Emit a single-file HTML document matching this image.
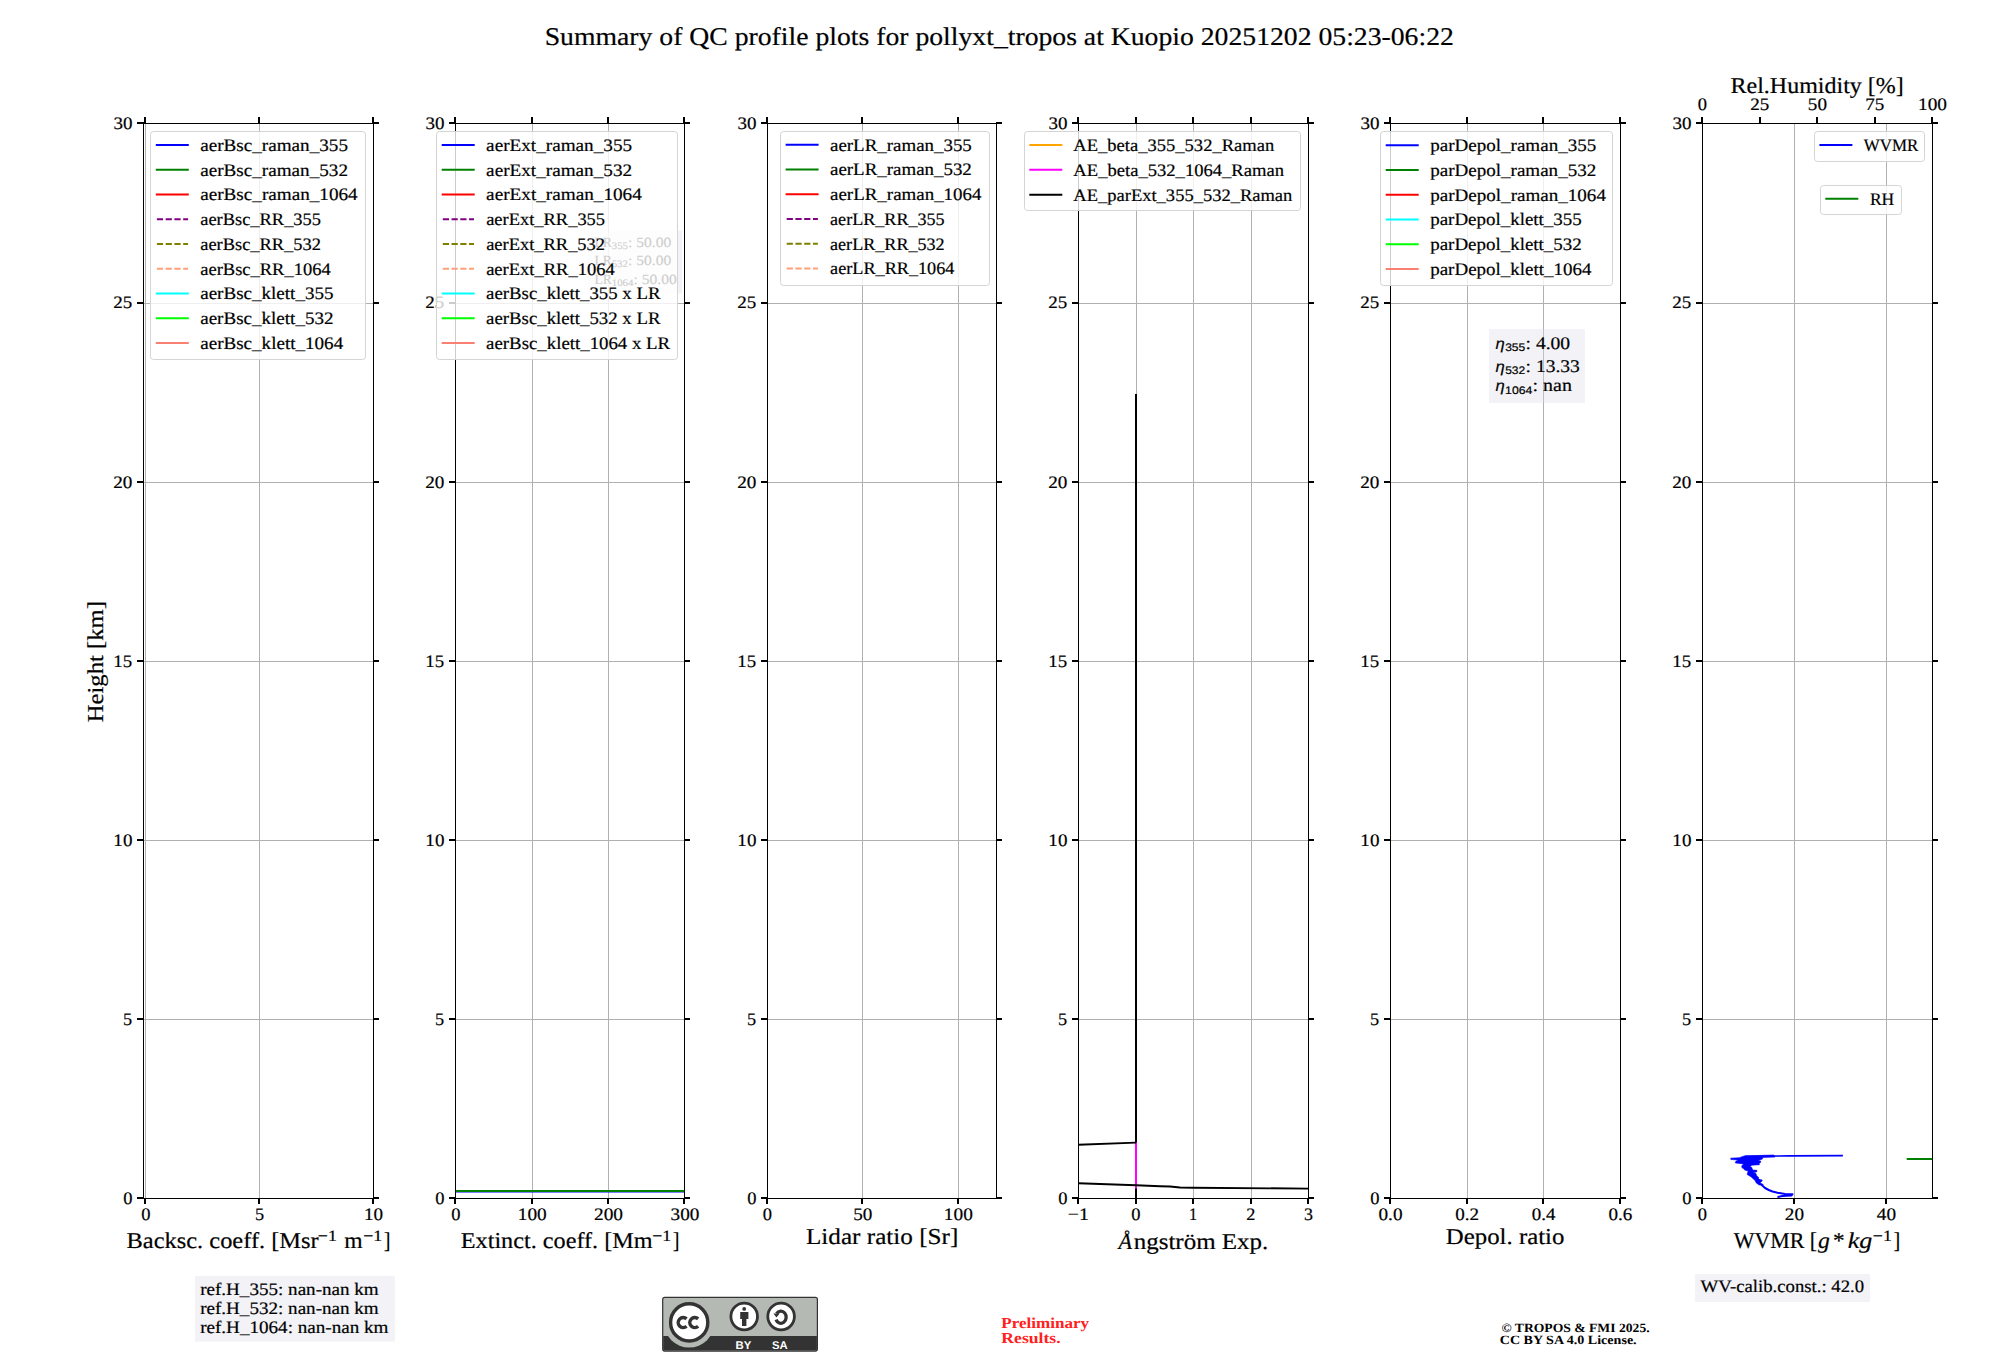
<!DOCTYPE html>
<html><head><meta charset="utf-8"><title>QC profile summary</title>
<style>html,body{margin:0;padding:0;background:#fff}body{width:2000px;height:1360px;overflow:hidden}svg{display:block}svg{font-family:"Liberation Serif",serif;text-rendering:geometricPrecision}</style></head>
<body><svg width="2000" height="1360" viewBox="0 0 2000 1360">
<rect x="0" y="0" width="2000" height="1360" fill="#fff"/>
<text x="544.72" y="44.50" font-size="25.55" textLength="909.11" lengthAdjust="spacingAndGlyphs" stroke="#000" stroke-width="0.2" >Summary of QC profile plots for pollyxt_tropos at Kuopio 20251202 05:23-06:22</text>
<g transform="translate(102.9,661.8) rotate(-90)">
<text x="-60.46" y="0.00" font-size="22.71" textLength="121.29" lengthAdjust="spacingAndGlyphs" stroke="#000" stroke-width="0.2" >Height [km]</text>
</g>
<line x1="145.50" y1="123.50" x2="145.50" y2="1198.50" stroke="#b0b0b0" stroke-width="1.0" />
<line x1="259.50" y1="123.50" x2="259.50" y2="1198.50" stroke="#b0b0b0" stroke-width="1.0" />
<line x1="373.50" y1="123.50" x2="373.50" y2="1198.50" stroke="#b0b0b0" stroke-width="1.0" />
<line x1="143.50" y1="1198.50" x2="373.50" y2="1198.50" stroke="#b0b0b0" stroke-width="1.0" />
<line x1="143.50" y1="1019.50" x2="373.50" y2="1019.50" stroke="#b0b0b0" stroke-width="1.0" />
<line x1="143.50" y1="840.50" x2="373.50" y2="840.50" stroke="#b0b0b0" stroke-width="1.0" />
<line x1="143.50" y1="661.50" x2="373.50" y2="661.50" stroke="#b0b0b0" stroke-width="1.0" />
<line x1="143.50" y1="482.50" x2="373.50" y2="482.50" stroke="#b0b0b0" stroke-width="1.0" />
<line x1="143.50" y1="303.50" x2="373.50" y2="303.50" stroke="#b0b0b0" stroke-width="1.0" />
<line x1="143.50" y1="123.50" x2="373.50" y2="123.50" stroke="#b0b0b0" stroke-width="1.0" />
<line x1="455.50" y1="123.50" x2="455.50" y2="1198.50" stroke="#b0b0b0" stroke-width="1.0" />
<line x1="532.50" y1="123.50" x2="532.50" y2="1198.50" stroke="#b0b0b0" stroke-width="1.0" />
<line x1="608.50" y1="123.50" x2="608.50" y2="1198.50" stroke="#b0b0b0" stroke-width="1.0" />
<line x1="684.50" y1="123.50" x2="684.50" y2="1198.50" stroke="#b0b0b0" stroke-width="1.0" />
<line x1="455.50" y1="1198.50" x2="684.50" y2="1198.50" stroke="#b0b0b0" stroke-width="1.0" />
<line x1="455.50" y1="1019.50" x2="684.50" y2="1019.50" stroke="#b0b0b0" stroke-width="1.0" />
<line x1="455.50" y1="840.50" x2="684.50" y2="840.50" stroke="#b0b0b0" stroke-width="1.0" />
<line x1="455.50" y1="661.50" x2="684.50" y2="661.50" stroke="#b0b0b0" stroke-width="1.0" />
<line x1="455.50" y1="482.50" x2="684.50" y2="482.50" stroke="#b0b0b0" stroke-width="1.0" />
<line x1="455.50" y1="303.50" x2="684.50" y2="303.50" stroke="#b0b0b0" stroke-width="1.0" />
<line x1="455.50" y1="123.50" x2="684.50" y2="123.50" stroke="#b0b0b0" stroke-width="1.0" />
<line x1="767.50" y1="123.50" x2="767.50" y2="1198.50" stroke="#b0b0b0" stroke-width="1.0" />
<line x1="862.50" y1="123.50" x2="862.50" y2="1198.50" stroke="#b0b0b0" stroke-width="1.0" />
<line x1="958.50" y1="123.50" x2="958.50" y2="1198.50" stroke="#b0b0b0" stroke-width="1.0" />
<line x1="767.50" y1="1198.50" x2="996.50" y2="1198.50" stroke="#b0b0b0" stroke-width="1.0" />
<line x1="767.50" y1="1019.50" x2="996.50" y2="1019.50" stroke="#b0b0b0" stroke-width="1.0" />
<line x1="767.50" y1="840.50" x2="996.50" y2="840.50" stroke="#b0b0b0" stroke-width="1.0" />
<line x1="767.50" y1="661.50" x2="996.50" y2="661.50" stroke="#b0b0b0" stroke-width="1.0" />
<line x1="767.50" y1="482.50" x2="996.50" y2="482.50" stroke="#b0b0b0" stroke-width="1.0" />
<line x1="767.50" y1="303.50" x2="996.50" y2="303.50" stroke="#b0b0b0" stroke-width="1.0" />
<line x1="767.50" y1="123.50" x2="996.50" y2="123.50" stroke="#b0b0b0" stroke-width="1.0" />
<line x1="1078.50" y1="123.50" x2="1078.50" y2="1198.50" stroke="#b0b0b0" stroke-width="1.0" />
<line x1="1136.50" y1="123.50" x2="1136.50" y2="1198.50" stroke="#b0b0b0" stroke-width="1.0" />
<line x1="1193.50" y1="123.50" x2="1193.50" y2="1198.50" stroke="#b0b0b0" stroke-width="1.0" />
<line x1="1251.50" y1="123.50" x2="1251.50" y2="1198.50" stroke="#b0b0b0" stroke-width="1.0" />
<line x1="1308.50" y1="123.50" x2="1308.50" y2="1198.50" stroke="#b0b0b0" stroke-width="1.0" />
<line x1="1078.50" y1="1198.50" x2="1308.50" y2="1198.50" stroke="#b0b0b0" stroke-width="1.0" />
<line x1="1078.50" y1="1019.50" x2="1308.50" y2="1019.50" stroke="#b0b0b0" stroke-width="1.0" />
<line x1="1078.50" y1="840.50" x2="1308.50" y2="840.50" stroke="#b0b0b0" stroke-width="1.0" />
<line x1="1078.50" y1="661.50" x2="1308.50" y2="661.50" stroke="#b0b0b0" stroke-width="1.0" />
<line x1="1078.50" y1="482.50" x2="1308.50" y2="482.50" stroke="#b0b0b0" stroke-width="1.0" />
<line x1="1078.50" y1="303.50" x2="1308.50" y2="303.50" stroke="#b0b0b0" stroke-width="1.0" />
<line x1="1078.50" y1="123.50" x2="1308.50" y2="123.50" stroke="#b0b0b0" stroke-width="1.0" />
<line x1="1390.50" y1="123.50" x2="1390.50" y2="1198.50" stroke="#b0b0b0" stroke-width="1.0" />
<line x1="1467.50" y1="123.50" x2="1467.50" y2="1198.50" stroke="#b0b0b0" stroke-width="1.0" />
<line x1="1543.50" y1="123.50" x2="1543.50" y2="1198.50" stroke="#b0b0b0" stroke-width="1.0" />
<line x1="1620.50" y1="123.50" x2="1620.50" y2="1198.50" stroke="#b0b0b0" stroke-width="1.0" />
<line x1="1390.50" y1="1198.50" x2="1620.50" y2="1198.50" stroke="#b0b0b0" stroke-width="1.0" />
<line x1="1390.50" y1="1019.50" x2="1620.50" y2="1019.50" stroke="#b0b0b0" stroke-width="1.0" />
<line x1="1390.50" y1="840.50" x2="1620.50" y2="840.50" stroke="#b0b0b0" stroke-width="1.0" />
<line x1="1390.50" y1="661.50" x2="1620.50" y2="661.50" stroke="#b0b0b0" stroke-width="1.0" />
<line x1="1390.50" y1="482.50" x2="1620.50" y2="482.50" stroke="#b0b0b0" stroke-width="1.0" />
<line x1="1390.50" y1="303.50" x2="1620.50" y2="303.50" stroke="#b0b0b0" stroke-width="1.0" />
<line x1="1390.50" y1="123.50" x2="1620.50" y2="123.50" stroke="#b0b0b0" stroke-width="1.0" />
<line x1="1702.50" y1="123.50" x2="1702.50" y2="1198.50" stroke="#b0b0b0" stroke-width="1.0" />
<line x1="1794.50" y1="123.50" x2="1794.50" y2="1198.50" stroke="#b0b0b0" stroke-width="1.0" />
<line x1="1886.50" y1="123.50" x2="1886.50" y2="1198.50" stroke="#b0b0b0" stroke-width="1.0" />
<line x1="1702.50" y1="1198.50" x2="1932.50" y2="1198.50" stroke="#b0b0b0" stroke-width="1.0" />
<line x1="1702.50" y1="1019.50" x2="1932.50" y2="1019.50" stroke="#b0b0b0" stroke-width="1.0" />
<line x1="1702.50" y1="840.50" x2="1932.50" y2="840.50" stroke="#b0b0b0" stroke-width="1.0" />
<line x1="1702.50" y1="661.50" x2="1932.50" y2="661.50" stroke="#b0b0b0" stroke-width="1.0" />
<line x1="1702.50" y1="482.50" x2="1932.50" y2="482.50" stroke="#b0b0b0" stroke-width="1.0" />
<line x1="1702.50" y1="303.50" x2="1932.50" y2="303.50" stroke="#b0b0b0" stroke-width="1.0" />
<line x1="1702.50" y1="123.50" x2="1932.50" y2="123.50" stroke="#b0b0b0" stroke-width="1.0" />
<line x1="455.50" y1="1191.50" x2="684.50" y2="1191.50" stroke="#0000ff" stroke-width="2.0" />
<line x1="455.50" y1="1191.00" x2="684.50" y2="1191.00" stroke="#008000" stroke-width="2.0" />
<line x1="1136.00" y1="394.00" x2="1136.00" y2="1143.00" stroke="#000" stroke-width="2.0" />
<line x1="1136.00" y1="1142.40" x2="1136.00" y2="1189.00" stroke="#ff00ff" stroke-width="2.0" />
<line x1="1136.00" y1="1188.50" x2="1136.00" y2="1198.50" stroke="#000" stroke-width="2.0" />
<polyline points="1078.50,1144.70 1136.00,1142.60" fill="none" stroke="#000" stroke-width="1.9" stroke-linejoin="round" />
<polyline points="1078.50,1183.30 1136.00,1185.25 1160.00,1186.25 1170.00,1186.50 1180.00,1187.50 1193.00,1187.75 1308.50,1188.60" fill="none" stroke="#000" stroke-width="1.9" stroke-linejoin="round" />
<polygon points="1744.0,1155.9 1773.9,1155.0 1774.9,1157.1 1762.3,1157.5 1762.8,1158.5 1761.5,1159.5 1758.2,1160.3 1760.8,1161.3 1760.5,1162.6 1759.0,1163.4 1759.5,1164.7 1751.8,1165.2 1750.0,1166.5 1751.8,1167.5 1752.3,1169.3 1753.3,1170.1 1756.9,1170.3 1756.7,1171.9 1753.0,1172.4 1755.9,1173.4 1756.7,1175.7 1758.7,1177.5 1758.5,1179.1 1761.5,1180.4 1760.0,1182.9 1763.3,1184.5 1759.0,1185.0 1756.1,1182.7 1755.1,1180.6 1751.0,1176.8 1747.1,1174.4 1748.2,1171.1 1744.6,1170.1 1744.0,1168.8 1742.0,1167.8 1741.7,1166.0 1743.5,1163.9 1735.3,1162.9 1735.8,1161.3 1738.4,1160.0 1730.9,1159.5 1730.7,1158.2 1739.4,1157.7 1743.5,1156.2" fill="#0000ff" stroke="#0000ff" stroke-width="0.6" stroke-linejoin="round"/>
<polyline points="1745.00,1156.30 1790.00,1155.90 1842.90,1155.70" fill="none" stroke="#0000ff" stroke-width="1.7" stroke-linejoin="round" stroke-linecap="butt"/>
<polyline points="1752.50,1176.00 1757.00,1178.75 1760.00,1180.75 1761.50,1180.50 1757.50,1182.50 1761.75,1185.00 1765.00,1188.00 1768.75,1190.00 1772.50,1191.50 1777.50,1192.75 1785.00,1194.00 1792.50,1194.25 1791.25,1195.50 1782.50,1196.00 1778.75,1196.75 1777.50,1197.50" fill="none" stroke="#0000ff" stroke-width="2.0" stroke-linejoin="round" />
<line x1="1906.70" y1="1159.00" x2="1932.50" y2="1159.00" stroke="#008000" stroke-width="2.0" />
<rect x="1489" y="329.1" width="95.9" height="73.9" fill="#dcdce8" fill-opacity="0.35"/>
<rect x="587.4" y="230.5" width="94.6" height="63.1" fill="#dcdce8" fill-opacity="0.35"/>
<line x1="143.00" y1="123.50" x2="374.00" y2="123.50" stroke="#000" stroke-width="1.0" />
<line x1="143.00" y1="1198.50" x2="374.00" y2="1198.50" stroke="#000" stroke-width="1.0" />
<line x1="143.50" y1="123.00" x2="143.50" y2="1199.00" stroke="#000" stroke-width="1.0" />
<line x1="373.50" y1="123.00" x2="373.50" y2="1199.00" stroke="#000" stroke-width="1.0" />
<line x1="145.00" y1="1198.00" x2="145.00" y2="1204.00" stroke="#000" stroke-width="2.0" />
<text x="141.15" y="1219.90" font-size="17.57" textLength="9.24" lengthAdjust="spacingAndGlyphs" stroke="#000" stroke-width="0.2" >0</text>
<line x1="259.00" y1="1198.00" x2="259.00" y2="1204.00" stroke="#000" stroke-width="2.0" />
<text x="254.96" y="1219.90" font-size="17.57" textLength="9.13" lengthAdjust="spacingAndGlyphs" stroke="#000" stroke-width="0.2" >5</text>
<line x1="373.00" y1="1198.00" x2="373.00" y2="1204.00" stroke="#000" stroke-width="2.0" />
<text x="363.94" y="1219.90" font-size="17.57" textLength="19.06" lengthAdjust="spacingAndGlyphs" stroke="#000" stroke-width="0.2" >10</text>
<line x1="145.00" y1="117.00" x2="145.00" y2="124.00" stroke="#000" stroke-width="2.0" />
<line x1="259.00" y1="117.00" x2="259.00" y2="124.00" stroke="#000" stroke-width="2.0" />
<line x1="373.00" y1="117.00" x2="373.00" y2="124.00" stroke="#000" stroke-width="2.0" />
<line x1="137.00" y1="1198.00" x2="144.00" y2="1198.00" stroke="#000" stroke-width="2.0" />
<line x1="373.00" y1="1198.00" x2="379.00" y2="1198.00" stroke="#000" stroke-width="2.0" />
<text x="123.19" y="1204.30" font-size="17.57" textLength="9.24" lengthAdjust="spacingAndGlyphs" stroke="#000" stroke-width="0.2" >0</text>
<line x1="137.00" y1="1019.00" x2="144.00" y2="1019.00" stroke="#000" stroke-width="2.0" />
<line x1="373.00" y1="1019.00" x2="379.00" y2="1019.00" stroke="#000" stroke-width="2.0" />
<text x="123.14" y="1025.13" font-size="17.57" textLength="9.13" lengthAdjust="spacingAndGlyphs" stroke="#000" stroke-width="0.2" >5</text>
<line x1="137.00" y1="840.00" x2="144.00" y2="840.00" stroke="#000" stroke-width="2.0" />
<line x1="373.00" y1="840.00" x2="379.00" y2="840.00" stroke="#000" stroke-width="2.0" />
<text x="113.37" y="845.97" font-size="17.57" textLength="19.06" lengthAdjust="spacingAndGlyphs" stroke="#000" stroke-width="0.2" >10</text>
<line x1="137.00" y1="661.00" x2="144.00" y2="661.00" stroke="#000" stroke-width="2.0" />
<line x1="373.00" y1="661.00" x2="379.00" y2="661.00" stroke="#000" stroke-width="2.0" />
<text x="113.39" y="666.80" font-size="17.57" textLength="18.89" lengthAdjust="spacingAndGlyphs" stroke="#000" stroke-width="0.2" >15</text>
<line x1="137.00" y1="482.00" x2="144.00" y2="482.00" stroke="#000" stroke-width="2.0" />
<line x1="373.00" y1="482.00" x2="379.00" y2="482.00" stroke="#000" stroke-width="2.0" />
<text x="113.28" y="487.63" font-size="17.57" textLength="19.15" lengthAdjust="spacingAndGlyphs" stroke="#000" stroke-width="0.2" >20</text>
<line x1="137.00" y1="303.00" x2="144.00" y2="303.00" stroke="#000" stroke-width="2.0" />
<line x1="373.00" y1="303.00" x2="379.00" y2="303.00" stroke="#000" stroke-width="2.0" />
<text x="113.29" y="308.47" font-size="17.57" textLength="18.98" lengthAdjust="spacingAndGlyphs" stroke="#000" stroke-width="0.2" >25</text>
<line x1="137.00" y1="123.00" x2="144.00" y2="123.00" stroke="#000" stroke-width="2.0" />
<line x1="373.00" y1="123.00" x2="379.00" y2="123.00" stroke="#000" stroke-width="2.0" />
<text x="113.44" y="129.30" font-size="17.57" textLength="18.98" lengthAdjust="spacingAndGlyphs" stroke="#000" stroke-width="0.2" >30</text>
<line x1="455.00" y1="123.50" x2="685.00" y2="123.50" stroke="#000" stroke-width="1.0" />
<line x1="455.00" y1="1198.50" x2="685.00" y2="1198.50" stroke="#000" stroke-width="1.0" />
<line x1="455.50" y1="123.00" x2="455.50" y2="1199.00" stroke="#000" stroke-width="1.0" />
<line x1="684.50" y1="123.00" x2="684.50" y2="1199.00" stroke="#000" stroke-width="1.0" />
<line x1="455.00" y1="1198.00" x2="455.00" y2="1204.00" stroke="#000" stroke-width="2.0" />
<text x="451.27" y="1219.90" font-size="17.57" textLength="9.24" lengthAdjust="spacingAndGlyphs" stroke="#000" stroke-width="0.2" >0</text>
<line x1="532.00" y1="1198.00" x2="532.00" y2="1204.00" stroke="#000" stroke-width="2.0" />
<text x="517.77" y="1219.90" font-size="17.57" textLength="28.93" lengthAdjust="spacingAndGlyphs" stroke="#000" stroke-width="0.2" >100</text>
<line x1="608.00" y1="1198.00" x2="608.00" y2="1204.00" stroke="#000" stroke-width="2.0" />
<text x="594.03" y="1219.90" font-size="17.57" textLength="29.01" lengthAdjust="spacingAndGlyphs" stroke="#000" stroke-width="0.2" >200</text>
<line x1="684.00" y1="1198.00" x2="684.00" y2="1204.00" stroke="#000" stroke-width="2.0" />
<text x="670.52" y="1219.90" font-size="17.57" textLength="28.84" lengthAdjust="spacingAndGlyphs" stroke="#000" stroke-width="0.2" >300</text>
<line x1="455.00" y1="117.00" x2="455.00" y2="124.00" stroke="#000" stroke-width="2.0" />
<line x1="532.00" y1="117.00" x2="532.00" y2="124.00" stroke="#000" stroke-width="2.0" />
<line x1="608.00" y1="117.00" x2="608.00" y2="124.00" stroke="#000" stroke-width="2.0" />
<line x1="684.00" y1="117.00" x2="684.00" y2="124.00" stroke="#000" stroke-width="2.0" />
<line x1="449.00" y1="1198.00" x2="456.00" y2="1198.00" stroke="#000" stroke-width="2.0" />
<line x1="684.00" y1="1198.00" x2="690.00" y2="1198.00" stroke="#000" stroke-width="2.0" />
<text x="435.19" y="1204.30" font-size="17.57" textLength="9.24" lengthAdjust="spacingAndGlyphs" stroke="#000" stroke-width="0.2" >0</text>
<line x1="449.00" y1="1019.00" x2="456.00" y2="1019.00" stroke="#000" stroke-width="2.0" />
<line x1="684.00" y1="1019.00" x2="690.00" y2="1019.00" stroke="#000" stroke-width="2.0" />
<text x="435.14" y="1025.13" font-size="17.57" textLength="9.13" lengthAdjust="spacingAndGlyphs" stroke="#000" stroke-width="0.2" >5</text>
<line x1="449.00" y1="840.00" x2="456.00" y2="840.00" stroke="#000" stroke-width="2.0" />
<line x1="684.00" y1="840.00" x2="690.00" y2="840.00" stroke="#000" stroke-width="2.0" />
<text x="425.37" y="845.97" font-size="17.57" textLength="19.06" lengthAdjust="spacingAndGlyphs" stroke="#000" stroke-width="0.2" >10</text>
<line x1="449.00" y1="661.00" x2="456.00" y2="661.00" stroke="#000" stroke-width="2.0" />
<line x1="684.00" y1="661.00" x2="690.00" y2="661.00" stroke="#000" stroke-width="2.0" />
<text x="425.39" y="666.80" font-size="17.57" textLength="18.89" lengthAdjust="spacingAndGlyphs" stroke="#000" stroke-width="0.2" >15</text>
<line x1="449.00" y1="482.00" x2="456.00" y2="482.00" stroke="#000" stroke-width="2.0" />
<line x1="684.00" y1="482.00" x2="690.00" y2="482.00" stroke="#000" stroke-width="2.0" />
<text x="425.28" y="487.63" font-size="17.57" textLength="19.15" lengthAdjust="spacingAndGlyphs" stroke="#000" stroke-width="0.2" >20</text>
<line x1="449.00" y1="303.00" x2="456.00" y2="303.00" stroke="#000" stroke-width="2.0" />
<line x1="684.00" y1="303.00" x2="690.00" y2="303.00" stroke="#000" stroke-width="2.0" />
<text x="425.29" y="308.47" font-size="17.57" textLength="18.98" lengthAdjust="spacingAndGlyphs" stroke="#000" stroke-width="0.2" >25</text>
<line x1="449.00" y1="123.00" x2="456.00" y2="123.00" stroke="#000" stroke-width="2.0" />
<line x1="684.00" y1="123.00" x2="690.00" y2="123.00" stroke="#000" stroke-width="2.0" />
<text x="425.44" y="129.30" font-size="17.57" textLength="18.98" lengthAdjust="spacingAndGlyphs" stroke="#000" stroke-width="0.2" >30</text>
<line x1="767.00" y1="123.50" x2="997.00" y2="123.50" stroke="#000" stroke-width="1.0" />
<line x1="767.00" y1="1198.50" x2="997.00" y2="1198.50" stroke="#000" stroke-width="1.0" />
<line x1="767.50" y1="123.00" x2="767.50" y2="1199.00" stroke="#000" stroke-width="1.0" />
<line x1="996.50" y1="123.00" x2="996.50" y2="1199.00" stroke="#000" stroke-width="1.0" />
<line x1="767.00" y1="1198.00" x2="767.00" y2="1204.00" stroke="#000" stroke-width="2.0" />
<text x="762.87" y="1219.90" font-size="17.57" textLength="9.24" lengthAdjust="spacingAndGlyphs" stroke="#000" stroke-width="0.2" >0</text>
<line x1="862.00" y1="1198.00" x2="862.00" y2="1204.00" stroke="#000" stroke-width="2.0" />
<text x="853.29" y="1219.90" font-size="17.57" textLength="19.13" lengthAdjust="spacingAndGlyphs" stroke="#000" stroke-width="0.2" >50</text>
<line x1="958.00" y1="1198.00" x2="958.00" y2="1204.00" stroke="#000" stroke-width="2.0" />
<text x="943.87" y="1219.90" font-size="17.57" textLength="28.93" lengthAdjust="spacingAndGlyphs" stroke="#000" stroke-width="0.2" >100</text>
<line x1="767.00" y1="117.00" x2="767.00" y2="124.00" stroke="#000" stroke-width="2.0" />
<line x1="862.00" y1="117.00" x2="862.00" y2="124.00" stroke="#000" stroke-width="2.0" />
<line x1="958.00" y1="117.00" x2="958.00" y2="124.00" stroke="#000" stroke-width="2.0" />
<line x1="761.00" y1="1198.00" x2="768.00" y2="1198.00" stroke="#000" stroke-width="2.0" />
<line x1="996.00" y1="1198.00" x2="1002.00" y2="1198.00" stroke="#000" stroke-width="2.0" />
<text x="747.19" y="1204.30" font-size="17.57" textLength="9.24" lengthAdjust="spacingAndGlyphs" stroke="#000" stroke-width="0.2" >0</text>
<line x1="761.00" y1="1019.00" x2="768.00" y2="1019.00" stroke="#000" stroke-width="2.0" />
<line x1="996.00" y1="1019.00" x2="1002.00" y2="1019.00" stroke="#000" stroke-width="2.0" />
<text x="747.14" y="1025.13" font-size="17.57" textLength="9.13" lengthAdjust="spacingAndGlyphs" stroke="#000" stroke-width="0.2" >5</text>
<line x1="761.00" y1="840.00" x2="768.00" y2="840.00" stroke="#000" stroke-width="2.0" />
<line x1="996.00" y1="840.00" x2="1002.00" y2="840.00" stroke="#000" stroke-width="2.0" />
<text x="737.37" y="845.97" font-size="17.57" textLength="19.06" lengthAdjust="spacingAndGlyphs" stroke="#000" stroke-width="0.2" >10</text>
<line x1="761.00" y1="661.00" x2="768.00" y2="661.00" stroke="#000" stroke-width="2.0" />
<line x1="996.00" y1="661.00" x2="1002.00" y2="661.00" stroke="#000" stroke-width="2.0" />
<text x="737.39" y="666.80" font-size="17.57" textLength="18.89" lengthAdjust="spacingAndGlyphs" stroke="#000" stroke-width="0.2" >15</text>
<line x1="761.00" y1="482.00" x2="768.00" y2="482.00" stroke="#000" stroke-width="2.0" />
<line x1="996.00" y1="482.00" x2="1002.00" y2="482.00" stroke="#000" stroke-width="2.0" />
<text x="737.28" y="487.63" font-size="17.57" textLength="19.15" lengthAdjust="spacingAndGlyphs" stroke="#000" stroke-width="0.2" >20</text>
<line x1="761.00" y1="303.00" x2="768.00" y2="303.00" stroke="#000" stroke-width="2.0" />
<line x1="996.00" y1="303.00" x2="1002.00" y2="303.00" stroke="#000" stroke-width="2.0" />
<text x="737.29" y="308.47" font-size="17.57" textLength="18.98" lengthAdjust="spacingAndGlyphs" stroke="#000" stroke-width="0.2" >25</text>
<line x1="761.00" y1="123.00" x2="768.00" y2="123.00" stroke="#000" stroke-width="2.0" />
<line x1="996.00" y1="123.00" x2="1002.00" y2="123.00" stroke="#000" stroke-width="2.0" />
<text x="737.44" y="129.30" font-size="17.57" textLength="18.98" lengthAdjust="spacingAndGlyphs" stroke="#000" stroke-width="0.2" >30</text>
<line x1="1078.00" y1="123.50" x2="1309.00" y2="123.50" stroke="#000" stroke-width="1.0" />
<line x1="1078.00" y1="1198.50" x2="1309.00" y2="1198.50" stroke="#000" stroke-width="1.0" />
<line x1="1078.50" y1="123.00" x2="1078.50" y2="1199.00" stroke="#000" stroke-width="1.0" />
<line x1="1308.50" y1="123.00" x2="1308.50" y2="1199.00" stroke="#000" stroke-width="1.0" />
<line x1="1078.00" y1="1198.00" x2="1078.00" y2="1204.00" stroke="#000" stroke-width="2.0" />
<text x="1067.80" y="1219.90" font-size="17.57" textLength="21.06" lengthAdjust="spacingAndGlyphs" stroke="#000" stroke-width="0.2" >−1</text>
<line x1="1136.00" y1="1198.00" x2="1136.00" y2="1204.00" stroke="#000" stroke-width="2.0" />
<text x="1131.37" y="1219.90" font-size="17.57" textLength="9.24" lengthAdjust="spacingAndGlyphs" stroke="#000" stroke-width="0.2" >0</text>
<line x1="1193.00" y1="1198.00" x2="1193.00" y2="1204.00" stroke="#000" stroke-width="2.0" />
<text x="1189.08" y="1219.90" font-size="17.57" textLength="8.12" lengthAdjust="spacingAndGlyphs" stroke="#000" stroke-width="0.2" >1</text>
<line x1="1251.00" y1="1198.00" x2="1251.00" y2="1204.00" stroke="#000" stroke-width="2.0" />
<text x="1246.29" y="1219.90" font-size="17.57" textLength="9.13" lengthAdjust="spacingAndGlyphs" stroke="#000" stroke-width="0.2" >2</text>
<line x1="1308.00" y1="1198.00" x2="1308.00" y2="1204.00" stroke="#000" stroke-width="2.0" />
<text x="1303.95" y="1219.90" font-size="17.57" textLength="8.98" lengthAdjust="spacingAndGlyphs" stroke="#000" stroke-width="0.2" >3</text>
<line x1="1078.00" y1="117.00" x2="1078.00" y2="124.00" stroke="#000" stroke-width="2.0" />
<line x1="1136.00" y1="117.00" x2="1136.00" y2="124.00" stroke="#000" stroke-width="2.0" />
<line x1="1193.00" y1="117.00" x2="1193.00" y2="124.00" stroke="#000" stroke-width="2.0" />
<line x1="1251.00" y1="117.00" x2="1251.00" y2="124.00" stroke="#000" stroke-width="2.0" />
<line x1="1308.00" y1="117.00" x2="1308.00" y2="124.00" stroke="#000" stroke-width="2.0" />
<line x1="1072.00" y1="1198.00" x2="1079.00" y2="1198.00" stroke="#000" stroke-width="2.0" />
<line x1="1308.00" y1="1198.00" x2="1314.00" y2="1198.00" stroke="#000" stroke-width="2.0" />
<text x="1058.19" y="1204.30" font-size="17.57" textLength="9.24" lengthAdjust="spacingAndGlyphs" stroke="#000" stroke-width="0.2" >0</text>
<line x1="1072.00" y1="1019.00" x2="1079.00" y2="1019.00" stroke="#000" stroke-width="2.0" />
<line x1="1308.00" y1="1019.00" x2="1314.00" y2="1019.00" stroke="#000" stroke-width="2.0" />
<text x="1058.14" y="1025.13" font-size="17.57" textLength="9.13" lengthAdjust="spacingAndGlyphs" stroke="#000" stroke-width="0.2" >5</text>
<line x1="1072.00" y1="840.00" x2="1079.00" y2="840.00" stroke="#000" stroke-width="2.0" />
<line x1="1308.00" y1="840.00" x2="1314.00" y2="840.00" stroke="#000" stroke-width="2.0" />
<text x="1048.37" y="845.97" font-size="17.57" textLength="19.06" lengthAdjust="spacingAndGlyphs" stroke="#000" stroke-width="0.2" >10</text>
<line x1="1072.00" y1="661.00" x2="1079.00" y2="661.00" stroke="#000" stroke-width="2.0" />
<line x1="1308.00" y1="661.00" x2="1314.00" y2="661.00" stroke="#000" stroke-width="2.0" />
<text x="1048.39" y="666.80" font-size="17.57" textLength="18.89" lengthAdjust="spacingAndGlyphs" stroke="#000" stroke-width="0.2" >15</text>
<line x1="1072.00" y1="482.00" x2="1079.00" y2="482.00" stroke="#000" stroke-width="2.0" />
<line x1="1308.00" y1="482.00" x2="1314.00" y2="482.00" stroke="#000" stroke-width="2.0" />
<text x="1048.28" y="487.63" font-size="17.57" textLength="19.15" lengthAdjust="spacingAndGlyphs" stroke="#000" stroke-width="0.2" >20</text>
<line x1="1072.00" y1="303.00" x2="1079.00" y2="303.00" stroke="#000" stroke-width="2.0" />
<line x1="1308.00" y1="303.00" x2="1314.00" y2="303.00" stroke="#000" stroke-width="2.0" />
<text x="1048.29" y="308.47" font-size="17.57" textLength="18.98" lengthAdjust="spacingAndGlyphs" stroke="#000" stroke-width="0.2" >25</text>
<line x1="1072.00" y1="123.00" x2="1079.00" y2="123.00" stroke="#000" stroke-width="2.0" />
<line x1="1308.00" y1="123.00" x2="1314.00" y2="123.00" stroke="#000" stroke-width="2.0" />
<text x="1048.44" y="129.30" font-size="17.57" textLength="18.98" lengthAdjust="spacingAndGlyphs" stroke="#000" stroke-width="0.2" >30</text>
<line x1="1390.00" y1="123.50" x2="1621.00" y2="123.50" stroke="#000" stroke-width="1.0" />
<line x1="1390.00" y1="1198.50" x2="1621.00" y2="1198.50" stroke="#000" stroke-width="1.0" />
<line x1="1390.50" y1="123.00" x2="1390.50" y2="1199.00" stroke="#000" stroke-width="1.0" />
<line x1="1620.50" y1="123.00" x2="1620.50" y2="1199.00" stroke="#000" stroke-width="1.0" />
<line x1="1390.00" y1="1198.00" x2="1390.00" y2="1204.00" stroke="#000" stroke-width="2.0" />
<text x="1378.51" y="1219.90" font-size="17.57" textLength="23.98" lengthAdjust="spacingAndGlyphs" stroke="#000" stroke-width="0.2" >0.0</text>
<line x1="1467.00" y1="1198.00" x2="1467.00" y2="1204.00" stroke="#000" stroke-width="2.0" />
<text x="1455.18" y="1219.90" font-size="17.57" textLength="23.79" lengthAdjust="spacingAndGlyphs" stroke="#000" stroke-width="0.2" >0.2</text>
<line x1="1543.00" y1="1198.00" x2="1543.00" y2="1204.00" stroke="#000" stroke-width="2.0" />
<text x="1531.85" y="1219.90" font-size="17.57" textLength="23.72" lengthAdjust="spacingAndGlyphs" stroke="#000" stroke-width="0.2" >0.4</text>
<line x1="1620.00" y1="1198.00" x2="1620.00" y2="1204.00" stroke="#000" stroke-width="2.0" />
<text x="1608.51" y="1219.90" font-size="17.57" textLength="23.86" lengthAdjust="spacingAndGlyphs" stroke="#000" stroke-width="0.2" >0.6</text>
<line x1="1390.00" y1="117.00" x2="1390.00" y2="124.00" stroke="#000" stroke-width="2.0" />
<line x1="1467.00" y1="117.00" x2="1467.00" y2="124.00" stroke="#000" stroke-width="2.0" />
<line x1="1543.00" y1="117.00" x2="1543.00" y2="124.00" stroke="#000" stroke-width="2.0" />
<line x1="1620.00" y1="117.00" x2="1620.00" y2="124.00" stroke="#000" stroke-width="2.0" />
<line x1="1384.00" y1="1198.00" x2="1391.00" y2="1198.00" stroke="#000" stroke-width="2.0" />
<line x1="1620.00" y1="1198.00" x2="1626.00" y2="1198.00" stroke="#000" stroke-width="2.0" />
<text x="1370.19" y="1204.30" font-size="17.57" textLength="9.24" lengthAdjust="spacingAndGlyphs" stroke="#000" stroke-width="0.2" >0</text>
<line x1="1384.00" y1="1019.00" x2="1391.00" y2="1019.00" stroke="#000" stroke-width="2.0" />
<line x1="1620.00" y1="1019.00" x2="1626.00" y2="1019.00" stroke="#000" stroke-width="2.0" />
<text x="1370.14" y="1025.13" font-size="17.57" textLength="9.13" lengthAdjust="spacingAndGlyphs" stroke="#000" stroke-width="0.2" >5</text>
<line x1="1384.00" y1="840.00" x2="1391.00" y2="840.00" stroke="#000" stroke-width="2.0" />
<line x1="1620.00" y1="840.00" x2="1626.00" y2="840.00" stroke="#000" stroke-width="2.0" />
<text x="1360.37" y="845.97" font-size="17.57" textLength="19.06" lengthAdjust="spacingAndGlyphs" stroke="#000" stroke-width="0.2" >10</text>
<line x1="1384.00" y1="661.00" x2="1391.00" y2="661.00" stroke="#000" stroke-width="2.0" />
<line x1="1620.00" y1="661.00" x2="1626.00" y2="661.00" stroke="#000" stroke-width="2.0" />
<text x="1360.39" y="666.80" font-size="17.57" textLength="18.89" lengthAdjust="spacingAndGlyphs" stroke="#000" stroke-width="0.2" >15</text>
<line x1="1384.00" y1="482.00" x2="1391.00" y2="482.00" stroke="#000" stroke-width="2.0" />
<line x1="1620.00" y1="482.00" x2="1626.00" y2="482.00" stroke="#000" stroke-width="2.0" />
<text x="1360.28" y="487.63" font-size="17.57" textLength="19.15" lengthAdjust="spacingAndGlyphs" stroke="#000" stroke-width="0.2" >20</text>
<line x1="1384.00" y1="303.00" x2="1391.00" y2="303.00" stroke="#000" stroke-width="2.0" />
<line x1="1620.00" y1="303.00" x2="1626.00" y2="303.00" stroke="#000" stroke-width="2.0" />
<text x="1360.29" y="308.47" font-size="17.57" textLength="18.98" lengthAdjust="spacingAndGlyphs" stroke="#000" stroke-width="0.2" >25</text>
<line x1="1384.00" y1="123.00" x2="1391.00" y2="123.00" stroke="#000" stroke-width="2.0" />
<line x1="1620.00" y1="123.00" x2="1626.00" y2="123.00" stroke="#000" stroke-width="2.0" />
<text x="1360.44" y="129.30" font-size="17.57" textLength="18.98" lengthAdjust="spacingAndGlyphs" stroke="#000" stroke-width="0.2" >30</text>
<line x1="1702.00" y1="123.50" x2="1933.00" y2="123.50" stroke="#000" stroke-width="1.0" />
<line x1="1702.00" y1="1198.50" x2="1933.00" y2="1198.50" stroke="#000" stroke-width="1.0" />
<line x1="1702.50" y1="123.00" x2="1702.50" y2="1199.00" stroke="#000" stroke-width="1.0" />
<line x1="1932.50" y1="123.00" x2="1932.50" y2="1199.00" stroke="#000" stroke-width="1.0" />
<line x1="1702.00" y1="1198.00" x2="1702.00" y2="1204.00" stroke="#000" stroke-width="2.0" />
<text x="1697.87" y="1219.90" font-size="17.57" textLength="9.24" lengthAdjust="spacingAndGlyphs" stroke="#000" stroke-width="0.2" >0</text>
<line x1="1794.00" y1="1198.00" x2="1794.00" y2="1204.00" stroke="#000" stroke-width="2.0" />
<text x="1784.86" y="1219.90" font-size="17.57" textLength="19.15" lengthAdjust="spacingAndGlyphs" stroke="#000" stroke-width="0.2" >20</text>
<line x1="1886.00" y1="1198.00" x2="1886.00" y2="1204.00" stroke="#000" stroke-width="2.0" />
<text x="1876.80" y="1219.90" font-size="17.57" textLength="19.21" lengthAdjust="spacingAndGlyphs" stroke="#000" stroke-width="0.2" >40</text>
<line x1="1702.00" y1="117.00" x2="1702.00" y2="124.00" stroke="#000" stroke-width="2.0" />
<line x1="1760.00" y1="117.00" x2="1760.00" y2="124.00" stroke="#000" stroke-width="2.0" />
<line x1="1817.00" y1="117.00" x2="1817.00" y2="124.00" stroke="#000" stroke-width="2.0" />
<line x1="1875.00" y1="117.00" x2="1875.00" y2="124.00" stroke="#000" stroke-width="2.0" />
<line x1="1932.00" y1="117.00" x2="1932.00" y2="124.00" stroke="#000" stroke-width="2.0" />
<line x1="1696.00" y1="1198.00" x2="1703.00" y2="1198.00" stroke="#000" stroke-width="2.0" />
<line x1="1932.00" y1="1198.00" x2="1938.00" y2="1198.00" stroke="#000" stroke-width="2.0" />
<text x="1682.19" y="1204.30" font-size="17.57" textLength="9.24" lengthAdjust="spacingAndGlyphs" stroke="#000" stroke-width="0.2" >0</text>
<line x1="1696.00" y1="1019.00" x2="1703.00" y2="1019.00" stroke="#000" stroke-width="2.0" />
<line x1="1932.00" y1="1019.00" x2="1938.00" y2="1019.00" stroke="#000" stroke-width="2.0" />
<text x="1682.14" y="1025.13" font-size="17.57" textLength="9.13" lengthAdjust="spacingAndGlyphs" stroke="#000" stroke-width="0.2" >5</text>
<line x1="1696.00" y1="840.00" x2="1703.00" y2="840.00" stroke="#000" stroke-width="2.0" />
<line x1="1932.00" y1="840.00" x2="1938.00" y2="840.00" stroke="#000" stroke-width="2.0" />
<text x="1672.37" y="845.97" font-size="17.57" textLength="19.06" lengthAdjust="spacingAndGlyphs" stroke="#000" stroke-width="0.2" >10</text>
<line x1="1696.00" y1="661.00" x2="1703.00" y2="661.00" stroke="#000" stroke-width="2.0" />
<line x1="1932.00" y1="661.00" x2="1938.00" y2="661.00" stroke="#000" stroke-width="2.0" />
<text x="1672.39" y="666.80" font-size="17.57" textLength="18.89" lengthAdjust="spacingAndGlyphs" stroke="#000" stroke-width="0.2" >15</text>
<line x1="1696.00" y1="482.00" x2="1703.00" y2="482.00" stroke="#000" stroke-width="2.0" />
<line x1="1932.00" y1="482.00" x2="1938.00" y2="482.00" stroke="#000" stroke-width="2.0" />
<text x="1672.28" y="487.63" font-size="17.57" textLength="19.15" lengthAdjust="spacingAndGlyphs" stroke="#000" stroke-width="0.2" >20</text>
<line x1="1696.00" y1="303.00" x2="1703.00" y2="303.00" stroke="#000" stroke-width="2.0" />
<line x1="1932.00" y1="303.00" x2="1938.00" y2="303.00" stroke="#000" stroke-width="2.0" />
<text x="1672.29" y="308.47" font-size="17.57" textLength="18.98" lengthAdjust="spacingAndGlyphs" stroke="#000" stroke-width="0.2" >25</text>
<line x1="1696.00" y1="123.00" x2="1703.00" y2="123.00" stroke="#000" stroke-width="2.0" />
<line x1="1932.00" y1="123.00" x2="1938.00" y2="123.00" stroke="#000" stroke-width="2.0" />
<text x="1672.44" y="129.30" font-size="17.57" textLength="18.98" lengthAdjust="spacingAndGlyphs" stroke="#000" stroke-width="0.2" >30</text>
<text x="126.57" y="1247.60" font-size="22.71" textLength="192.15" lengthAdjust="spacingAndGlyphs" stroke="#000" stroke-width="0.2" >Backsc. coeff. [Msr</text>
<text x="317.87" y="1241.00" font-size="15.90" textLength="19.06" lengthAdjust="spacingAndGlyphs" stroke="#000" stroke-width="0.2" >−1</text>
<text x="344.19" y="1247.60" font-size="22.71" textLength="18.36" lengthAdjust="spacingAndGlyphs" stroke="#000" stroke-width="0.2" >m</text>
<text x="363.25" y="1241.00" font-size="15.90" textLength="19.06" lengthAdjust="spacingAndGlyphs" stroke="#000" stroke-width="0.2" >−1</text>
<text x="383.85" y="1247.60" font-size="22.71" textLength="6.76" lengthAdjust="spacingAndGlyphs" stroke="#000" stroke-width="0.2" >]</text>
<text x="460.79" y="1247.60" font-size="22.71" textLength="191.80" lengthAdjust="spacingAndGlyphs" stroke="#000" stroke-width="0.2" >Extinct. coeff. [Mm</text>
<text x="652.24" y="1241.00" font-size="15.90" textLength="19.06" lengthAdjust="spacingAndGlyphs" stroke="#000" stroke-width="0.2" >−1</text>
<text x="672.84" y="1247.60" font-size="22.71" textLength="6.76" lengthAdjust="spacingAndGlyphs" stroke="#000" stroke-width="0.2" >]</text>
<text x="805.99" y="1243.50" font-size="22.71" textLength="152.31" lengthAdjust="spacingAndGlyphs" stroke="#000" stroke-width="0.2" >Lidar ratio [Sr]</text>
<text x="1445.85" y="1243.50" font-size="22.71" textLength="118.60" lengthAdjust="spacingAndGlyphs" stroke="#000" stroke-width="0.2" >Depol. ratio</text>
<text x="1118.58" y="1249.20" font-size="22.71" textLength="13.50" lengthAdjust="spacingAndGlyphs" stroke="#000" stroke-width="0.2" font-style="italic" >Å</text>
<text x="1133.70" y="1249.20" font-size="22.71" textLength="134.61" lengthAdjust="spacingAndGlyphs" stroke="#000" stroke-width="0.2" >ngström Exp.</text>
<text x="1733.73" y="1247.50" font-size="22.71" textLength="83.43" lengthAdjust="spacingAndGlyphs" stroke="#000" stroke-width="0.2" >WVMR [</text>
<text x="1817.96" y="1247.50" font-size="22.71" textLength="11.84" lengthAdjust="spacingAndGlyphs" stroke="#000" stroke-width="0.2" font-style="italic" >g</text>
<text x="1832.98" y="1247.50" font-size="22.71" textLength="11.67" lengthAdjust="spacingAndGlyphs" stroke="#000" stroke-width="0.2" >*</text>
<text x="1847.68" y="1247.50" font-size="22.71" textLength="24.58" lengthAdjust="spacingAndGlyphs" stroke="#000" stroke-width="0.2" font-style="italic" >kg</text>
<text x="1872.84" y="1240.90" font-size="15.90" textLength="19.06" lengthAdjust="spacingAndGlyphs" stroke="#000" stroke-width="0.2" >−1</text>
<text x="1893.44" y="1247.50" font-size="22.71" textLength="6.76" lengthAdjust="spacingAndGlyphs" stroke="#000" stroke-width="0.2" >]</text>
<text x="1495.60" y="348.70" font-size="15.81" textLength="9.27" lengthAdjust="spacingAndGlyphs" stroke="#000" stroke-width="0.2" font-style="italic" font-family="'Liberation Sans',sans-serif" >η</text>
<text x="1505.16" y="351.10" font-size="10.96" textLength="20.11" lengthAdjust="spacingAndGlyphs" stroke="#000" stroke-width="0.2" font-family="'Liberation Sans',sans-serif" >355</text>
<text x="1525.60" y="348.70" font-size="17.82" textLength="44.56" lengthAdjust="spacingAndGlyphs" stroke="#000" stroke-width="0.2" >: 4.00</text>
<text x="1495.60" y="371.80" font-size="15.81" textLength="9.27" lengthAdjust="spacingAndGlyphs" stroke="#000" stroke-width="0.2" font-style="italic" font-family="'Liberation Sans',sans-serif" >η</text>
<text x="1505.16" y="374.20" font-size="10.96" textLength="20.06" lengthAdjust="spacingAndGlyphs" stroke="#000" stroke-width="0.2" font-family="'Liberation Sans',sans-serif" >532</text>
<text x="1525.60" y="371.80" font-size="17.82" textLength="54.31" lengthAdjust="spacingAndGlyphs" stroke="#000" stroke-width="0.2" >: 13.33</text>
<text x="1495.60" y="391.40" font-size="15.81" textLength="9.27" lengthAdjust="spacingAndGlyphs" stroke="#000" stroke-width="0.2" font-style="italic" font-family="'Liberation Sans',sans-serif" >η</text>
<text x="1505.10" y="393.80" font-size="10.96" textLength="27.26" lengthAdjust="spacingAndGlyphs" stroke="#000" stroke-width="0.2" font-family="'Liberation Sans',sans-serif" >1064</text>
<text x="1532.46" y="391.40" font-size="17.82" textLength="39.43" lengthAdjust="spacingAndGlyphs" stroke="#000" stroke-width="0.2" >: nan</text>
<text x="594.46" y="246.80" font-size="14.14" textLength="17.59" lengthAdjust="spacingAndGlyphs" stroke="#000" stroke-width="0.2" >LR</text>
<text x="611.79" y="249.40" font-size="9.90" textLength="16.16" lengthAdjust="spacingAndGlyphs" stroke="#000" stroke-width="0.2" >355</text>
<text x="628.11" y="246.80" font-size="14.14" textLength="43.22" lengthAdjust="spacingAndGlyphs" stroke="#000" stroke-width="0.2" >: 50.00</text>
<text x="594.46" y="264.70" font-size="14.14" textLength="17.59" lengthAdjust="spacingAndGlyphs" stroke="#000" stroke-width="0.2" >LR</text>
<text x="611.71" y="267.30" font-size="9.90" textLength="16.23" lengthAdjust="spacingAndGlyphs" stroke="#000" stroke-width="0.2" >532</text>
<text x="628.11" y="264.70" font-size="14.14" textLength="43.22" lengthAdjust="spacingAndGlyphs" stroke="#000" stroke-width="0.2" >: 50.00</text>
<text x="594.46" y="283.70" font-size="14.14" textLength="17.59" lengthAdjust="spacingAndGlyphs" stroke="#000" stroke-width="0.2" >LR</text>
<text x="611.74" y="286.30" font-size="9.90" textLength="21.65" lengthAdjust="spacingAndGlyphs" stroke="#000" stroke-width="0.2" >1064</text>
<text x="633.59" y="283.70" font-size="14.14" textLength="43.22" lengthAdjust="spacingAndGlyphs" stroke="#000" stroke-width="0.2" >: 50.00</text>
<rect x="150.50" y="131.50" width="215.00" height="228.00" rx="3" ry="3" fill="#fff" fill-opacity="0.8" stroke="#d4d4d4" stroke-width="1"/>
<line x1="155.80" y1="144.90" x2="188.80" y2="144.90" stroke="#0000ff" stroke-width="2.0" />
<text x="200.23" y="150.90" font-size="17.57" textLength="147.76" lengthAdjust="spacingAndGlyphs" stroke="#000" stroke-width="0.2" >aerBsc_raman_355</text>
<line x1="155.80" y1="169.65" x2="188.80" y2="169.65" stroke="#008000" stroke-width="2.0" />
<text x="200.23" y="175.65" font-size="17.57" textLength="147.74" lengthAdjust="spacingAndGlyphs" stroke="#000" stroke-width="0.2" >aerBsc_raman_532</text>
<line x1="155.80" y1="194.40" x2="188.80" y2="194.40" stroke="#ff0000" stroke-width="2.0" />
<text x="200.23" y="200.40" font-size="17.57" textLength="157.43" lengthAdjust="spacingAndGlyphs" stroke="#000" stroke-width="0.2" >aerBsc_raman_1064</text>
<line x1="156.90" y1="219.15" x2="188.10" y2="219.15" stroke="#800080" stroke-width="2.0"  stroke-dasharray="6.2,2.55"/>
<text x="200.26" y="225.15" font-size="17.57" textLength="120.74" lengthAdjust="spacingAndGlyphs" stroke="#000" stroke-width="0.2" >aerBsc_RR_355</text>
<line x1="156.90" y1="243.90" x2="188.10" y2="243.90" stroke="#808000" stroke-width="2.0"  stroke-dasharray="6.2,2.55"/>
<text x="200.26" y="249.90" font-size="17.57" textLength="120.71" lengthAdjust="spacingAndGlyphs" stroke="#000" stroke-width="0.2" >aerBsc_RR_532</text>
<line x1="156.90" y1="268.65" x2="188.10" y2="268.65" stroke="#ffa07a" stroke-width="2.0"  stroke-dasharray="6.2,2.55"/>
<text x="200.25" y="274.65" font-size="17.57" textLength="130.43" lengthAdjust="spacingAndGlyphs" stroke="#000" stroke-width="0.2" >aerBsc_RR_1064</text>
<line x1="155.80" y1="293.40" x2="188.80" y2="293.40" stroke="#00ffff" stroke-width="2.0" />
<text x="200.23" y="299.40" font-size="17.57" textLength="133.28" lengthAdjust="spacingAndGlyphs" stroke="#000" stroke-width="0.2" >aerBsc_klett_355</text>
<line x1="155.80" y1="318.15" x2="188.80" y2="318.15" stroke="#00ff00" stroke-width="2.0" />
<text x="200.23" y="324.15" font-size="17.57" textLength="133.26" lengthAdjust="spacingAndGlyphs" stroke="#000" stroke-width="0.2" >aerBsc_klett_532</text>
<line x1="155.80" y1="342.90" x2="188.80" y2="342.90" stroke="#fa8072" stroke-width="2.0" />
<text x="200.23" y="348.90" font-size="17.57" textLength="142.95" lengthAdjust="spacingAndGlyphs" stroke="#000" stroke-width="0.2" >aerBsc_klett_1064</text>
<rect x="436.50" y="131.50" width="241.00" height="228.00" rx="3" ry="3" fill="#fff" fill-opacity="0.8" stroke="#d4d4d4" stroke-width="1"/>
<line x1="441.70" y1="144.90" x2="474.70" y2="144.90" stroke="#0000ff" stroke-width="2.0" />
<text x="486.13" y="150.90" font-size="17.57" textLength="145.97" lengthAdjust="spacingAndGlyphs" stroke="#000" stroke-width="0.2" >aerExt_raman_355</text>
<line x1="441.70" y1="169.65" x2="474.70" y2="169.65" stroke="#008000" stroke-width="2.0" />
<text x="486.13" y="175.65" font-size="17.57" textLength="145.95" lengthAdjust="spacingAndGlyphs" stroke="#000" stroke-width="0.2" >aerExt_raman_532</text>
<line x1="441.70" y1="194.40" x2="474.70" y2="194.40" stroke="#ff0000" stroke-width="2.0" />
<text x="486.13" y="200.40" font-size="17.57" textLength="155.71" lengthAdjust="spacingAndGlyphs" stroke="#000" stroke-width="0.2" >aerExt_raman_1064</text>
<line x1="442.80" y1="219.15" x2="474.00" y2="219.15" stroke="#800080" stroke-width="2.0"  stroke-dasharray="6.2,2.55"/>
<text x="486.15" y="225.15" font-size="17.57" textLength="118.95" lengthAdjust="spacingAndGlyphs" stroke="#000" stroke-width="0.2" >aerExt_RR_355</text>
<line x1="442.80" y1="243.90" x2="474.00" y2="243.90" stroke="#808000" stroke-width="2.0"  stroke-dasharray="6.2,2.55"/>
<text x="486.15" y="249.90" font-size="17.57" textLength="118.92" lengthAdjust="spacingAndGlyphs" stroke="#000" stroke-width="0.2" >aerExt_RR_532</text>
<line x1="442.80" y1="268.65" x2="474.00" y2="268.65" stroke="#ffa07a" stroke-width="2.0"  stroke-dasharray="6.2,2.55"/>
<text x="486.15" y="274.65" font-size="17.57" textLength="128.63" lengthAdjust="spacingAndGlyphs" stroke="#000" stroke-width="0.2" >aerExt_RR_1064</text>
<line x1="441.70" y1="293.40" x2="474.70" y2="293.40" stroke="#00ffff" stroke-width="2.0" />
<text x="486.14" y="299.40" font-size="17.57" textLength="174.30" lengthAdjust="spacingAndGlyphs" stroke="#000" stroke-width="0.2" >aerBsc_klett_355 x LR</text>
<line x1="441.70" y1="318.15" x2="474.70" y2="318.15" stroke="#00ff00" stroke-width="2.0" />
<text x="486.14" y="324.15" font-size="17.57" textLength="174.30" lengthAdjust="spacingAndGlyphs" stroke="#000" stroke-width="0.2" >aerBsc_klett_532 x LR</text>
<line x1="441.70" y1="342.90" x2="474.70" y2="342.90" stroke="#fa8072" stroke-width="2.0" />
<text x="486.14" y="348.90" font-size="17.57" textLength="184.06" lengthAdjust="spacingAndGlyphs" stroke="#000" stroke-width="0.2" >aerBsc_klett_1064 x LR</text>
<rect x="780.50" y="131.50" width="209.00" height="154.00" rx="3" ry="3" fill="#fff" fill-opacity="0.8" stroke="#d4d4d4" stroke-width="1"/>
<line x1="785.60" y1="144.70" x2="818.60" y2="144.70" stroke="#0000ff" stroke-width="2.0" />
<text x="830.04" y="150.70" font-size="17.57" textLength="141.80" lengthAdjust="spacingAndGlyphs" stroke="#000" stroke-width="0.2" >aerLR_raman_355</text>
<line x1="785.60" y1="169.45" x2="818.60" y2="169.45" stroke="#008000" stroke-width="2.0" />
<text x="830.04" y="175.45" font-size="17.57" textLength="141.78" lengthAdjust="spacingAndGlyphs" stroke="#000" stroke-width="0.2" >aerLR_raman_532</text>
<line x1="785.60" y1="194.20" x2="818.60" y2="194.20" stroke="#ff0000" stroke-width="2.0" />
<text x="830.04" y="200.20" font-size="17.57" textLength="151.48" lengthAdjust="spacingAndGlyphs" stroke="#000" stroke-width="0.2" >aerLR_raman_1064</text>
<line x1="786.70" y1="218.95" x2="817.90" y2="218.95" stroke="#800080" stroke-width="2.0"  stroke-dasharray="6.2,2.55"/>
<text x="830.07" y="224.95" font-size="17.57" textLength="114.60" lengthAdjust="spacingAndGlyphs" stroke="#000" stroke-width="0.2" >aerLR_RR_355</text>
<line x1="786.70" y1="243.70" x2="817.90" y2="243.70" stroke="#808000" stroke-width="2.0"  stroke-dasharray="6.2,2.55"/>
<text x="830.07" y="249.70" font-size="17.57" textLength="114.57" lengthAdjust="spacingAndGlyphs" stroke="#000" stroke-width="0.2" >aerLR_RR_532</text>
<line x1="786.70" y1="268.45" x2="817.90" y2="268.45" stroke="#ffa07a" stroke-width="2.0"  stroke-dasharray="6.2,2.55"/>
<text x="830.06" y="274.45" font-size="17.57" textLength="124.38" lengthAdjust="spacingAndGlyphs" stroke="#000" stroke-width="0.2" >aerLR_RR_1064</text>
<rect x="1024.50" y="131.50" width="276.00" height="79.00" rx="3" ry="3" fill="#fff" fill-opacity="0.8" stroke="#d4d4d4" stroke-width="1"/>
<line x1="1029.30" y1="144.90" x2="1062.30" y2="144.90" stroke="#ffa500" stroke-width="2.0" />
<text x="1073.37" y="150.90" font-size="17.57" textLength="200.85" lengthAdjust="spacingAndGlyphs" stroke="#000" stroke-width="0.2" >AE_beta_355_532_Raman</text>
<line x1="1029.30" y1="169.85" x2="1062.30" y2="169.85" stroke="#ff00ff" stroke-width="2.0" />
<text x="1073.37" y="175.85" font-size="17.57" textLength="210.69" lengthAdjust="spacingAndGlyphs" stroke="#000" stroke-width="0.2" >AE_beta_532_1064_Raman</text>
<line x1="1029.30" y1="194.80" x2="1062.30" y2="194.80" stroke="#000000" stroke-width="2.0" />
<text x="1073.37" y="200.80" font-size="17.57" textLength="218.99" lengthAdjust="spacingAndGlyphs" stroke="#000" stroke-width="0.2" >AE_parExt_355_532_Raman</text>
<rect x="1380.50" y="131.50" width="232.00" height="154.00" rx="3" ry="3" fill="#fff" fill-opacity="0.8" stroke="#d4d4d4" stroke-width="1"/>
<line x1="1385.70" y1="145.20" x2="1418.70" y2="145.20" stroke="#0000ff" stroke-width="2.0" />
<text x="1430.21" y="151.20" font-size="17.57" textLength="166.05" lengthAdjust="spacingAndGlyphs" stroke="#000" stroke-width="0.2" >parDepol_raman_355</text>
<line x1="1385.70" y1="169.95" x2="1418.70" y2="169.95" stroke="#008000" stroke-width="2.0" />
<text x="1430.21" y="175.95" font-size="17.57" textLength="166.03" lengthAdjust="spacingAndGlyphs" stroke="#000" stroke-width="0.2" >parDepol_raman_532</text>
<line x1="1385.70" y1="194.70" x2="1418.70" y2="194.70" stroke="#ff0000" stroke-width="2.0" />
<text x="1430.21" y="200.70" font-size="17.57" textLength="175.72" lengthAdjust="spacingAndGlyphs" stroke="#000" stroke-width="0.2" >parDepol_raman_1064</text>
<line x1="1385.70" y1="219.45" x2="1418.70" y2="219.45" stroke="#00ffff" stroke-width="2.0" />
<text x="1430.21" y="225.45" font-size="17.57" textLength="151.57" lengthAdjust="spacingAndGlyphs" stroke="#000" stroke-width="0.2" >parDepol_klett_355</text>
<line x1="1385.70" y1="244.20" x2="1418.70" y2="244.20" stroke="#00ff00" stroke-width="2.0" />
<text x="1430.21" y="250.20" font-size="17.57" textLength="151.55" lengthAdjust="spacingAndGlyphs" stroke="#000" stroke-width="0.2" >parDepol_klett_532</text>
<line x1="1385.70" y1="268.95" x2="1418.70" y2="268.95" stroke="#fa8072" stroke-width="2.0" />
<text x="1430.21" y="274.95" font-size="17.57" textLength="161.24" lengthAdjust="spacingAndGlyphs" stroke="#000" stroke-width="0.2" >parDepol_klett_1064</text>
<rect x="1814.50" y="131.50" width="110.00" height="30.00" rx="3" ry="3" fill="#fff" fill-opacity="0.8" stroke="#d4d4d4" stroke-width="1"/>
<line x1="1819.40" y1="144.90" x2="1852.40" y2="144.90" stroke="#0000ff" stroke-width="2.0" />
<text x="1863.81" y="150.90" font-size="17.57" textLength="54.53" lengthAdjust="spacingAndGlyphs" stroke="#000" stroke-width="0.2" >WVMR</text>
<rect x="1820.50" y="185.50" width="81.00" height="29.00" rx="3" ry="3" fill="#fff" fill-opacity="0.8" stroke="#d4d4d4" stroke-width="1"/>
<line x1="1825.30" y1="198.70" x2="1858.30" y2="198.70" stroke="#008000" stroke-width="2.0" />
<text x="1869.95" y="204.70" font-size="17.57" textLength="24.32" lengthAdjust="spacingAndGlyphs" stroke="#000" stroke-width="0.2" >RH</text>
<text x="1697.87" y="109.60" font-size="17.57" textLength="9.24" lengthAdjust="spacingAndGlyphs" stroke="#000" stroke-width="0.2" >0</text>
<text x="1750.37" y="109.60" font-size="17.57" textLength="18.98" lengthAdjust="spacingAndGlyphs" stroke="#000" stroke-width="0.2" >25</text>
<text x="1807.88" y="109.60" font-size="17.57" textLength="19.13" lengthAdjust="spacingAndGlyphs" stroke="#000" stroke-width="0.2" >50</text>
<text x="1865.29" y="109.60" font-size="17.57" textLength="19.06" lengthAdjust="spacingAndGlyphs" stroke="#000" stroke-width="0.2" >75</text>
<text x="1918.03" y="109.60" font-size="17.57" textLength="28.93" lengthAdjust="spacingAndGlyphs" stroke="#000" stroke-width="0.2" >100</text>
<text x="1730.53" y="92.80" font-size="22.71" textLength="173.30" lengthAdjust="spacingAndGlyphs" stroke="#000" stroke-width="0.2" >Rel.Humidity [%]</text>
<rect x="195" y="1275.8" width="199.8" height="65.8" fill="#f2f2f7"/>
<text x="200.15" y="1294.80" font-size="17.57" textLength="178.56" lengthAdjust="spacingAndGlyphs" stroke="#000" stroke-width="0.2" >ref.H_355: nan-nan km</text>
<text x="200.15" y="1313.80" font-size="17.57" textLength="178.56" lengthAdjust="spacingAndGlyphs" stroke="#000" stroke-width="0.2" >ref.H_532: nan-nan km</text>
<text x="200.15" y="1333.40" font-size="17.57" textLength="188.33" lengthAdjust="spacingAndGlyphs" stroke="#000" stroke-width="0.2" >ref.H_1064: nan-nan km</text>
<rect x="1695.2" y="1274.1" width="174.7" height="27.9" fill="#f2f2f7"/>
<text x="1700.48" y="1292.10" font-size="17.57" textLength="163.67" lengthAdjust="spacingAndGlyphs" stroke="#000" stroke-width="0.2" >WV-calib.const.: 42.0</text>
<text x="1001.34" y="1327.80" font-size="15.18" textLength="87.77" lengthAdjust="spacingAndGlyphs" fill="#ff2020" font-weight="bold" >Preliminary</text>
<text x="1001.33" y="1342.80" font-size="15.18" textLength="59.31" lengthAdjust="spacingAndGlyphs" fill="#ff2020" font-weight="bold" >Results.</text>
<text x="1501.49" y="1331.70" font-size="12.65" textLength="148.14" lengthAdjust="spacingAndGlyphs" font-weight="bold" >© TROPOS &amp; FMI 2025.</text>
<text x="1499.74" y="1343.80" font-size="12.65" textLength="136.91" lengthAdjust="spacingAndGlyphs" font-weight="bold" >CC BY SA 4.0 License.</text>
<defs><clipPath id="ccclip"><rect x="663.2" y="1297.9" width="153.7" height="52.7" rx="1.5" ry="1.5"/></clipPath></defs>
<rect x="662.7" y="1297.4" width="154.7" height="53.7" rx="2" ry="2" fill="#b4b9b4" stroke="#333" stroke-width="1.2"/>
<g clip-path="url(#ccclip)">
<rect x="662" y="1336" width="157" height="16" fill="#333"/>
<circle cx="689.2" cy="1322.4" r="25.2" fill="#b4b9b4"/>
</g>
<circle cx="689.2" cy="1322.4" r="18.6" fill="#fff" stroke="#333" stroke-width="3.4"/>
<path d="M686.55,1318.88 A5.0,5.0 0 1 0 686.55,1326.32 M698.15,1318.88 A5.0,5.0 0 1 0 698.15,1326.32" fill="none" stroke="#333" stroke-width="3.5"/>
<circle cx="744.2" cy="1316.5" r="13.3" fill="#fff" stroke="#333" stroke-width="2.8"/>
<circle cx="744.2" cy="1308.9" r="1.9" fill="#333"/>
<rect x="740.2" y="1312" width="8.2" height="7" fill="#333"/>
<rect x="742.0" y="1318" width="4.4" height="8" fill="#333"/>
<circle cx="781.1" cy="1316.5" r="13.3" fill="#fff" stroke="#333" stroke-width="2.8"/>
<path d="M776.6,1313.6 A5.3,6.1 0 1 1 776.0,1319.6" fill="none" stroke="#333" stroke-width="3.3"/>
<path d="M773.4,1313.4 L779.6,1313.4 L776.5,1317.4 Z" fill="#333"/>
<text x="735.5" y="1348.5" style="font-family:'Liberation Sans',sans-serif;font-weight:bold;font-size:11.2px" fill="#fff" textLength="15.8" lengthAdjust="spacingAndGlyphs">BY</text>
<text x="772.0" y="1348.5" style="font-family:'Liberation Sans',sans-serif;font-weight:bold;font-size:11.2px" fill="#fff" textLength="15.7" lengthAdjust="spacingAndGlyphs">SA</text>
</svg></body></html>
